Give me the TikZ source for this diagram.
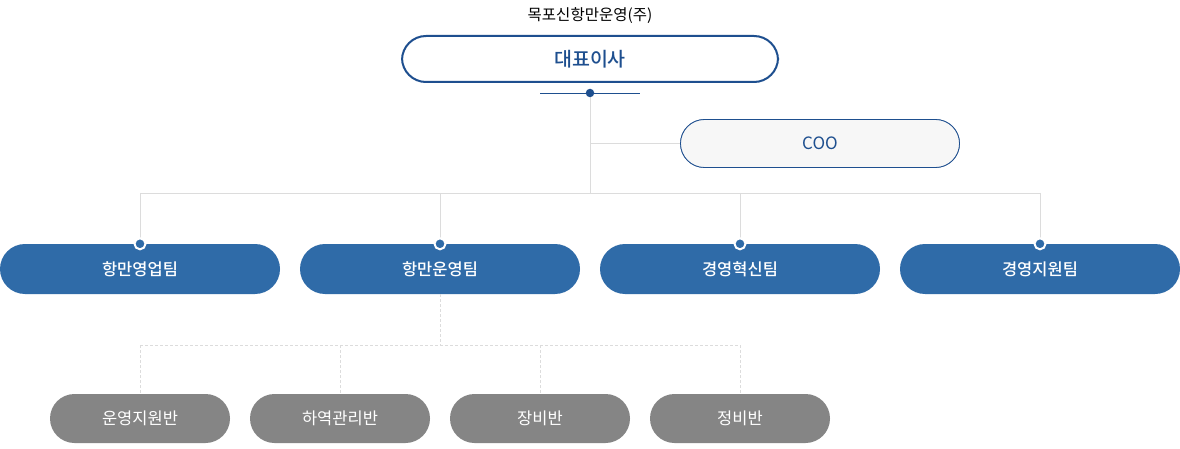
\documentclass[tikz,border=0pt]{standalone}
\usepackage{fontspec}
\setmainfont{Noto Sans CJK KR}
\newfontfamily\krmed{Noto Sans CJK KR Medium}
\begin{document}
\begin{tikzpicture}[x=1pt,y=-1pt,
  ceobox/.style={draw=ceoblue,line width=2pt,fill=white,rounded corners=24pt,minimum width=376pt,minimum height=46pt,inner sep=0pt,text=ceoblue,font=\krmed\fontsize{19.5}{21}\selectfont},
  coobox/.style={draw=ceoblue,line width=0.8pt,fill=coofill,rounded corners=24pt,minimum width=279pt,minimum height=48pt,inner sep=0pt,text=ceoblue,font=\fontsize{17}{19}\selectfont},
  teambox/.style={fill=teamblue,rounded corners=25pt,minimum width=280pt,minimum height=50pt,inner sep=0pt,text=white,font=\krmed\fontsize{16.5}{18}\selectfont},
  subbox/.style={fill=subgray,rounded corners=24.5pt,minimum width=180pt,minimum height=49pt,inner sep=0pt,text=white,font=\fontsize{16.5}{18}\selectfont},
  conn/.style={draw=linegray,line width=0.8pt},
  dconn/.style={draw=linegray,line width=0.8pt,dash pattern=on 3pt off 2pt},
  tdot/.style={circle,fill=teamblue,draw=white,line width=2pt,minimum size=11pt,inner sep=0pt}
]
\definecolor{ceoblue}{HTML}{1E4F8F}
\definecolor{teamblue}{HTML}{2F6BA8}
\definecolor{subgray}{HTML}{858585}
\definecolor{coofill}{HTML}{F7F7F7}
\definecolor{linegray}{HTML}{DCDCDC}
\useasboundingbox[fill=white] (0,0) rectangle (1180,449);

\node[font=\fontsize{15.5}{17}\selectfont] (title) at (590,16) {목포신항만운영(주)};

\coordinate (hl) at (540,93);
\coordinate (hr) at (640,93);
\coordinate (cdot) at (590,93);
\coordinate (jcoo) at (590,143.5);
\coordinate (jbus) at (590,193);
\coordinate (b1) at (140,193);
\coordinate (b2) at (440,193);
\coordinate (b3) at (740,193);
\coordinate (b4) at (1040,193);

\node[ceobox] (ceo) at (590,59) {대표이사};
\node[coobox] (coo) at (820,143.5) {COO};
\node[teambox] (t1) at (140,269) {항만영업팀};
\node[teambox] (t2) at (440,269) {항만운영팀};
\node[teambox] (t3) at (740,269) {경영혁신팀};
\node[teambox] (t4) at (1040,269) {경영지원팀};

\path[conn] (cdot) -- (jbus);
\path[conn] (jcoo) -- (coo.west);
\path[conn] (b1) -- (b4);
\path[conn] (b1) -- (t1.north);
\path[conn] (b2) -- (t2.north);
\path[conn] (b3) -- (t3.north);
\path[conn] (b4) -- (t4.north);

\draw[draw=ceoblue,line width=0.8pt] (hl) -- (hr);
\node[circle,fill=ceoblue,minimum size=8.5pt,inner sep=0pt] (cdotn) at (cdot) {};
\node[coobox] at (coo) {COO};

\foreach \t in {t1,t2,t3,t4} \node[tdot] at (\t.north) {};

\coordinate (d0) at (440,345);
\coordinate (d1) at (140,345);
\coordinate (d2) at (340,345);
\coordinate (d3) at (540,345);
\coordinate (d4) at (740,345);

\node[subbox] (s1) at (140,418.5) {운영지원반};
\node[subbox] (s2) at (340,418.5) {하역관리반};
\node[subbox] (s3) at (540,418.5) {장비반};
\node[subbox] (s4) at (740,418.5) {정비반};

\path[dconn] (t2.south) -- (d0);
\path[dconn] (d1) -- (d4);
\path[dconn] (d1) -- (s1.north);
\path[dconn] (d2) -- (s2.north);
\path[dconn] (d3) -- (s3.north);
\path[dconn] (d4) -- (s4.north);
\end{tikzpicture}
\end{document}
